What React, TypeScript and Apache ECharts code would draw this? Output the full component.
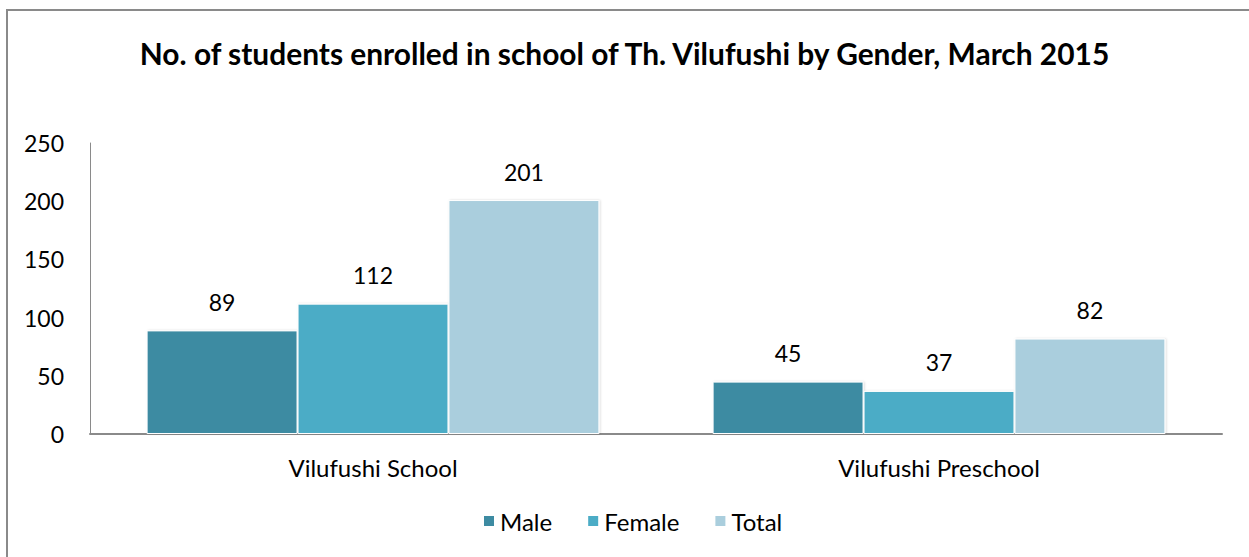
import React, { useEffect, useRef } from "react";
import * as echarts from "echarts";

const categories = ["Vilufushi School", "Vilufushi Preschool"];
const maleValues = [89, 45];
const femaleValues = [112, 37];
const totalValues = [201, 82];
const seriesNames = ["Male", "Female", "Total"];
const seriesColors = ["#3D8BA2", "#4BACC6", "#AACEDD"];
const titleText = "No. of students enrolled in school of Th. Vilufushi by Gender, March 2015";

const FONT = "Lato, 'Open Sans', sans-serif";

export default function App() {
  const ref = useRef<HTMLDivElement>(null);
  useEffect(() => {
    if (!ref.current) return;
    const chart = echarts.init(ref.current, undefined, { renderer: "svg" });
    const values = [maleValues, femaleValues, totalValues];
    chart.setOption({
      animation: false,
      backgroundColor: "#ffffff",
      textStyle: { fontFamily: FONT },
      title: {
        text: titleText,
        left: "center",
        top: 33,
        textStyle: { fontFamily: FONT, fontWeight: "bold", fontSize: 29.9, color: "#000" },
      },
      graphic: [
        {
          type: "rect",
          shape: { x: 7, y: 10, width: 1400, height: 700 },
          style: { fill: "none", stroke: "#8a8a8a", lineWidth: 2 },
          silent: true,
        },
      ],
      legend: {
        bottom: 19,
        left: 477,
        itemWidth: 12,
        itemHeight: 12,
        itemGap: 34,
        itemTextGap: 10,
        icon: "rect",
        textStyle: { fontFamily: FONT, fontSize: 24, color: "#000" },
        data: seriesNames,
      },
      grid: { left: 90, right: 27, top: 143, bottom: 123 },
      xAxis: {
        type: "category",
        data: categories,
        axisLine: { lineStyle: { color: "#8a8a8a", width: 2 } },
        axisTick: { show: false },
        axisLabel: { fontFamily: FONT, fontSize: 24, color: "#000", margin: 21 },
      },
      yAxis: {
        type: "value",
        min: 0,
        max: 250,
        interval: 50,
        axisLine: { show: true, lineStyle: { color: "#8a8a8a", width: 1 } },
        axisTick: { show: false },
        splitLine: { show: false },
        axisLabel: { fontFamily: FONT, fontSize: 23, color: "#000", margin: 26 },
      },
      series: seriesNames.map((name, i) => ({
        name,
        type: "bar",
        data: values[i],
        barGap: "0%",
        barCategoryGap: "20%",
        itemStyle: {
          color: seriesColors[i],
          borderColor: "#ffffff",
          borderWidth: 1,
          shadowColor: "rgba(0,0,0,0.15)",
          shadowBlur: 2,
          shadowOffsetX: 1,
          shadowOffsetY: 0,
        },
        label: {
          show: true,
          position: "top",
          distance: 17,
          fontFamily: FONT,
          fontSize: 23,
          color: "#000",
        },
      })),
    });
    return () => chart.dispose();
  }, []);
  return (
    <div
      ref={ref}
      style={{ position: "absolute", left: 0, top: 0, width: 1249, height: 557 }}
    />
  );
}
